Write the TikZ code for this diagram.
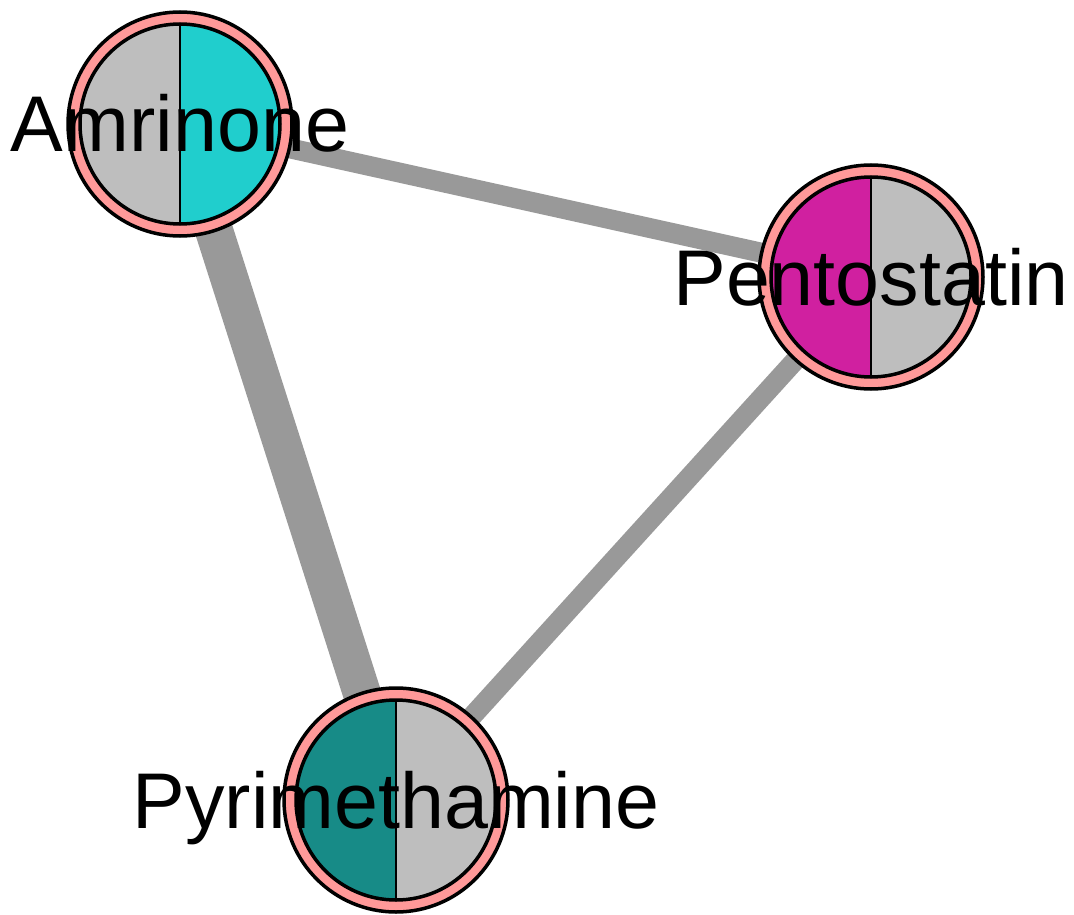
\documentclass[tikz,border=0pt]{standalone}
\usepackage{fontspec}
\setmainfont{Liberation Sans}
\usetikzlibrary{backgrounds}

\definecolor{halfgray}{RGB}{190,190,190}
\definecolor{amrcyan}{RGB}{32,206,205}
\definecolor{penmagenta}{RGB}{208,32,160}
\definecolor{pyrteal}{RGB}{23,139,135}
\definecolor{ringpink}{RGB}{255,153,153}
\definecolor{edgegray}{RGB}{153,153,153}

\tikzset{
  drug/.style={circle, minimum size=224pt, inner sep=0pt, fill=ringpink, draw=black, line width=3.5pt},
  druglabel/.style={anchor=base, font=\fontsize{79}{81}\selectfont, inner sep=0pt},
  edge/.style={draw=edgegray}
}

% two coloured halves inside a drug node
\newcommand{\splitdisk}[3]{%
  \fill[#2] (#1.center) ++(0,100pt) arc[start angle=90,end angle=270,radius=100pt] -- cycle;
  \fill[#3] (#1.center) ++(0,-100pt) arc[start angle=-90,end angle=90,radius=100pt] -- cycle;
  \draw[line width=3.5pt] (#1.center) circle[radius=100pt];
  \draw[line width=2.5pt] (#1.center) ++(0,100pt) -- ++(0,-200pt);
}

\begin{document}
\begin{tikzpicture}[x=1pt,y=-1pt]
            \useasboundingbox (0,0) rectangle (1074,915);

            % Drug nodes
            \node[drug] (amr) at (180,124) {};
            \splitdisk{amr}{halfgray}{amrcyan}

            \node[drug] (pen) at (871,277) {};
            \splitdisk{pen}{penmagenta}{halfgray}

            \node[drug] (pyr) at (396,800) {};
            \splitdisk{pyr}{pyrteal}{halfgray}

            % Edges behind the nodes
            \begin{scope}[on background layer]
            \draw[edge, line width=20pt] (amr.center) -- (pen.center);
            \draw[edge, line width=38pt] (amr.center) -- (pyr.center);
            \draw[edge, line width=20pt] (pen.center) -- (pyr.center);
            \end{scope}

            % Labels
            \node[druglabel] (amrlabel) at ([yshift=-28pt]amr.center) {Amrinone};
            \node[druglabel] (penlabel) at ([yshift=-28pt]pen.center) {Pentostatin};
            \node[druglabel] (pyrlabel) at ([yshift=-28pt]pyr.center) {Pyrimethamine};
        \end{tikzpicture}
\end{document}
